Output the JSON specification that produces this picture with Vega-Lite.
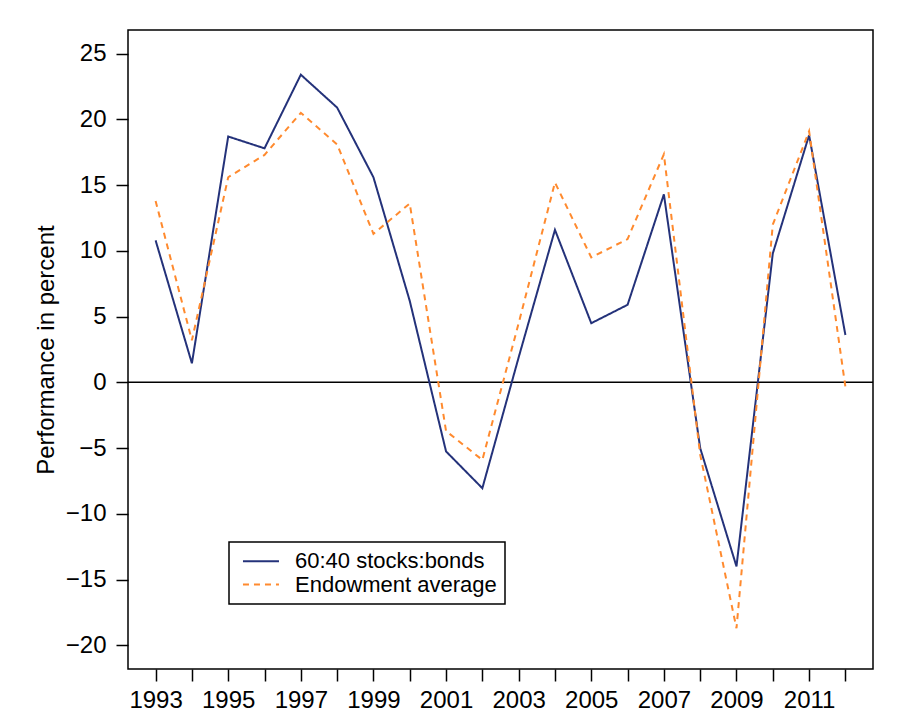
{
  "$schema": "https://vega.github.io/schema/vega-lite/v6.json",
  "width": 745,
  "height": 639,
  "autosize": {"type": "none"},
  "padding": {"left": 128, "top": 30, "right": 35, "bottom": 55},
  "background": "white",
  "config": {
    "view": {"stroke": "black", "strokeWidth": 1.5},
    "font": "Liberation Sans"
  },
  "datasets": {
    "perf": [
      {"year": 1993, "series": "60:40 stocks:bonds", "value": 10.8},
      {"year": 1994, "series": "60:40 stocks:bonds", "value": 1.45},
      {"year": 1995, "series": "60:40 stocks:bonds", "value": 18.7},
      {"year": 1996, "series": "60:40 stocks:bonds", "value": 17.8},
      {"year": 1997, "series": "60:40 stocks:bonds", "value": 23.4},
      {"year": 1998, "series": "60:40 stocks:bonds", "value": 20.9},
      {"year": 1999, "series": "60:40 stocks:bonds", "value": 15.6},
      {"year": 2000, "series": "60:40 stocks:bonds", "value": 6.2},
      {"year": 2001, "series": "60:40 stocks:bonds", "value": -5.25},
      {"year": 2002, "series": "60:40 stocks:bonds", "value": -8.05},
      {"year": 2003, "series": "60:40 stocks:bonds", "value": 1.9},
      {"year": 2004, "series": "60:40 stocks:bonds", "value": 11.6},
      {"year": 2005, "series": "60:40 stocks:bonds", "value": 4.5},
      {"year": 2006, "series": "60:40 stocks:bonds", "value": 5.9},
      {"year": 2007, "series": "60:40 stocks:bonds", "value": 14.3},
      {"year": 2008, "series": "60:40 stocks:bonds", "value": -5.0},
      {"year": 2009, "series": "60:40 stocks:bonds", "value": -14.0},
      {"year": 2010, "series": "60:40 stocks:bonds", "value": 9.8},
      {"year": 2011, "series": "60:40 stocks:bonds", "value": 18.8},
      {"year": 2012, "series": "60:40 stocks:bonds", "value": 3.6},
      {"year": 1993, "series": "Endowment average", "value": 13.8},
      {"year": 1994, "series": "Endowment average", "value": 3.2},
      {"year": 1995, "series": "Endowment average", "value": 15.6},
      {"year": 1996, "series": "Endowment average", "value": 17.3},
      {"year": 1997, "series": "Endowment average", "value": 20.5},
      {"year": 1998, "series": "Endowment average", "value": 18.1},
      {"year": 1999, "series": "Endowment average", "value": 11.3},
      {"year": 2000, "series": "Endowment average", "value": 13.6},
      {"year": 2001, "series": "Endowment average", "value": -3.7},
      {"year": 2002, "series": "Endowment average", "value": -5.9},
      {"year": 2003, "series": "Endowment average", "value": 4.5},
      {"year": 2004, "series": "Endowment average", "value": 15.2},
      {"year": 2005, "series": "Endowment average", "value": 9.5},
      {"year": 2006, "series": "Endowment average", "value": 10.9},
      {"year": 2007, "series": "Endowment average", "value": 17.35},
      {"year": 2008, "series": "Endowment average", "value": -5.5},
      {"year": 2009, "series": "Endowment average", "value": -18.7},
      {"year": 2010, "series": "Endowment average", "value": 12.0},
      {"year": 2011, "series": "Endowment average", "value": 19.1},
      {"year": 2012, "series": "Endowment average", "value": -0.35}
    ]
  },
  "layer": [
    {
      "data": {"values": [{"value": 0}]},
      "mark": {"type": "rule", "color": "black", "strokeWidth": 1.5},
      "encoding": {
        "y": {
          "field": "value",
          "type": "quantitative",
          "scale": {"domain": [-21.8, 26.8], "nice": false, "zero": false},
          "title": "Performance in percent",
          "axis": {
            "values": [-20, -15, -10, -5, 0, 5, 10, 15, 20, 25],
            "format": "d",
            "titleFontSize": 24,
            "titleFontWeight": "normal",
            "titleFont": "Liberation Sans",
            "titleColor": "black",
            "titleAngle": -90,
            "titleX": -82,
            "titleY": 319.5,
            "titleAlign": "center",
            "titleBaseline": "middle",
            "grid": false,
            "domain": false,
            "tickSize": 12,
            "tickWidth": 1.5,
            "tickColor": "black",
            "labelFontSize": 24,
            "labelFont": "Liberation Sans",
            "labelColor": "black",
            "labelPadding": 10
          }
        }
      }
    },
    {
      "data": {"name": "perf"},
      "mark": {"type": "line", "strokeWidth": 2, "clip": true},
      "encoding": {
        "x": {
          "field": "year",
          "type": "quantitative",
          "scale": {"domain": [1992.24, 2012.76], "nice": false, "zero": false},
          "axis": {
            "values": [1993, 1994, 1995, 1996, 1997, 1998, 1999, 2000, 2001, 2002, 2003, 2004, 2005, 2006, 2007, 2008, 2009, 2010, 2011, 2012],
            "labelExpr": "datum.value % 2 == 1 ? format(datum.value, 'd') : ''",
            "title": null,
            "grid": false,
            "domain": false,
            "tickSize": 12,
            "tickWidth": 1.5,
            "tickColor": "black",
            "labelFontSize": 24,
            "labelFont": "Liberation Sans",
            "labelColor": "black",
            "labelPadding": 7,
            "labelFlush": false,
            "labelOverlap": false
          }
        },
        "y": {
          "field": "value",
          "type": "quantitative",
          "scale": {"domain": [-21.8, 26.8], "nice": false, "zero": false},
          "title": "Performance in percent",
          "axis": {
            "values": [-20, -15, -10, -5, 0, 5, 10, 15, 20, 25],
            "format": "d",
            "titleFontSize": 24,
            "titleFontWeight": "normal",
            "titleFont": "Liberation Sans",
            "titleColor": "black",
            "titleAngle": -90,
            "titleX": -82,
            "titleY": 319.5,
            "titleAlign": "center",
            "titleBaseline": "middle",
            "grid": false,
            "domain": false,
            "tickSize": 12,
            "tickWidth": 1.5,
            "tickColor": "black",
            "labelFontSize": 24,
            "labelFont": "Liberation Sans",
            "labelColor": "black",
            "labelPadding": 10
          }
        },
        "color": {
          "field": "series",
          "type": "nominal",
          "scale": {"domain": ["60:40 stocks:bonds", "Endowment average"], "range": ["#24327a", "#ff8a2e"]},
          "legend": {
            "orient": "none",
            "legendX": 101,
            "legendY": 512,
            "title": null,
            "strokeColor": "black",
            "fillColor": "white",
            "padding": 8.2,
            "labelFontSize": 22,
            "labelFont": "Liberation Sans",
            "labelColor": "black",
            "labelOffset": 35.8,
            "labelLimit": 0,
            "rowPadding": 1.3,
            "symbolSize": 144,
            "symbolType": "M-0.87,0H5.13",
            "symbolStrokeWidth": 2,
            "encode": {"legend": {"update": {"strokeWidth": {"value": 1.5}}}}
          }
        },
        "strokeDash": {
          "field": "series",
          "type": "nominal",
          "scale": {"domain": ["60:40 stocks:bonds", "Endowment average"], "range": [[1, 0], [6, 5]]},
          "legend": {
            "orient": "none",
            "legendX": 101,
            "legendY": 512,
            "title": null,
            "strokeColor": "black",
            "fillColor": "white",
            "padding": 8.2,
            "labelFontSize": 22,
            "labelFont": "Liberation Sans",
            "labelColor": "black",
            "labelOffset": 35.8,
            "labelLimit": 0,
            "rowPadding": 1.3,
            "symbolSize": 144,
            "symbolType": "M-0.87,0H5.13",
            "symbolStrokeWidth": 2,
            "encode": {"legend": {"update": {"strokeWidth": {"value": 1.5}}}}
          }
        }
      }
    }
  ]
}
